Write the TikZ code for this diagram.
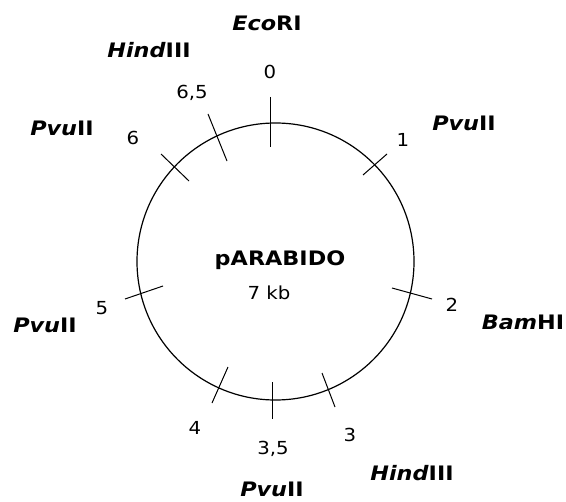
\documentclass[tikz,border=0pt]{standalone}
\usepackage{fontspec}
\newfontfamily\enzfont[FakeStretch=1.12]{DejaVu Sans}
\newfontfamily\numfont[FakeStretch=1.1]{DejaVu Sans}
\begin{document}
\begin{tikzpicture}[x=1bp,y=-1bp,
  enz/.style={anchor=base,inner sep=0pt,font=\enzfont\fontsize{20}{22}\selectfont\bfseries},
  num/.style={anchor=base,inner sep=0pt,font=\numfont\fontsize{18}{20}\selectfont},
  tick/.style={line width=1bp,black},
  ring/.style={line width=1.2bp,black}]
\useasboundingbox (0,0) rectangle (566,502);
% plasmid circle
\node[circle,ring,draw,minimum size=277bp,inner sep=0pt] (plasmid) at (275.5,261.5) {};
% ticks (site markers)
\coordinate (t0a) at (270,97);  \coordinate (t0b) at (270,147);
\coordinate (t1a) at (363,175); \coordinate (t1b) at (387,154);
\coordinate (t2a) at (392,288); \coordinate (t2b) at (432,299);
\coordinate (t3a) at (322,373); \coordinate (t3b) at (335,407);
\coordinate (t35a) at (272,382); \coordinate (t35b) at (272,419);
\coordinate (t4a) at (228,367); \coordinate (t4b) at (212,403);
\coordinate (t5a) at (125,299); \coordinate (t5b) at (163,286);
\coordinate (t6a) at (161,154); \coordinate (t6b) at (189,181);
\coordinate (t65a) at (208,114); \coordinate (t65b) at (227,161);
\foreach \t in {0,1,2,3,35,4,5,6,65} \draw[tick] (t\t a) -- (t\t b);
% centre labels
\node[enz] (name) at (280,265.5) {pARABIDO};
\node[num] (size) at (269,299.5) {7 kb};
% position numbers
\node[num] (n0) at (270,78.5) {0};
\node[num] (n1) at (403,146.5) {1};
\node[num] (n2) at (452,311.5) {2};
\node[num] (n3) at (350,441.5) {3};
\node[num] (n35) at (273,454.5) {3,5};
\node[num] (n4) at (195,434.5) {4};
\node[num] (n5) at (102,314.5) {5};
\node[num] (n6) at (133,144.5) {6};
\node[num] (n65) at (192,98.5) {6,5};
% enzyme names
\node[enz] (e0) at (267,30.5) {\textit{Eco}RI};
\node[enz] (e65) at (149,57.5) {\textit{Hind}III};
\node[enz] (e6) at (62,135.5) {\textit{Pvu}II};
\node[enz] (e1) at (464,130.5) {\textit{Pvu}II};
\node[enz] (e2) at (523,329.5) {\textit{Bam}HI};
\node[enz] (e5) at (45,332.5) {\textit{Pvu}II};
\node[enz] (e3) at (412,480.5) {\textit{Hind}III};
\node[enz] (e35) at (272,496.5) {\textit{Pvu}II};
\end{tikzpicture}
\end{document}
